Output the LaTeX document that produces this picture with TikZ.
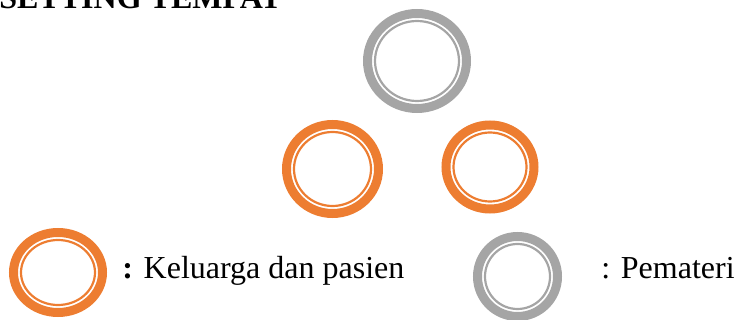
\documentclass[tikz,border=0pt]{standalone}
\usepackage{xcolor}
\usepackage{fontspec}
\setmainfont{Liberation Serif}
\usepackage{tikz}
\definecolor{STOrange}{HTML}{ED7D31}
\definecolor{STGray}{HTML}{A5A5A5}
\tikzset{
  ringout/.style={line width=4.5pt},
  ringin/.style={line width=1.1pt},
  legtext/.style={anchor=base west,inner sep=0pt,font=\fontsize{16}{19}\selectfont}
}
\begin{document}
\begin{tikzpicture}[x=0.5pt,y=-0.5pt]
\path[use as bounding box] (0,0) rectangle (734,320);
\clip (0,0) rectangle (734,320);
\node[anchor=base west,inner sep=0pt,font=\fontsize{16}{19}\selectfont\bfseries] (title) at (-1,9) {SETTING TEMPAT};
% pemateri
\draw[STGray,ringout] (417,61) ellipse (49.5 and 47.5);
\draw[STGray,ringin] (417,61) ellipse (42 and 40);
% keluarga dan pasien
\draw[STOrange,ringout] (332.5,169) ellipse (46 and 44.5);
\draw[STOrange,ringin] (332.5,169) ellipse (38.5 and 37);
\draw[STOrange,ringout] (490,167) ellipse (44 and 42);
\draw[STOrange,ringin] (490,167) ellipse (36.5 and 34.5);
% legend
\draw[STOrange,ringout] (58,272.5) ellipse (44.5 and 40);
\draw[STOrange,ringin] (58,272.5) ellipse (37 and 32.5);
\node[legtext] (lblA) at (122,279) {\textbf{:} Keluarga dan pasien};
\draw[STGray,ringout] (517.5,276.5) ellipse (40 and 40);
\draw[STGray,ringin] (517.5,276.5) ellipse (32.5 and 32.5);
\node[legtext] (lblB) at (601,279) {: Pemateri};
\end{tikzpicture}
\end{document}
